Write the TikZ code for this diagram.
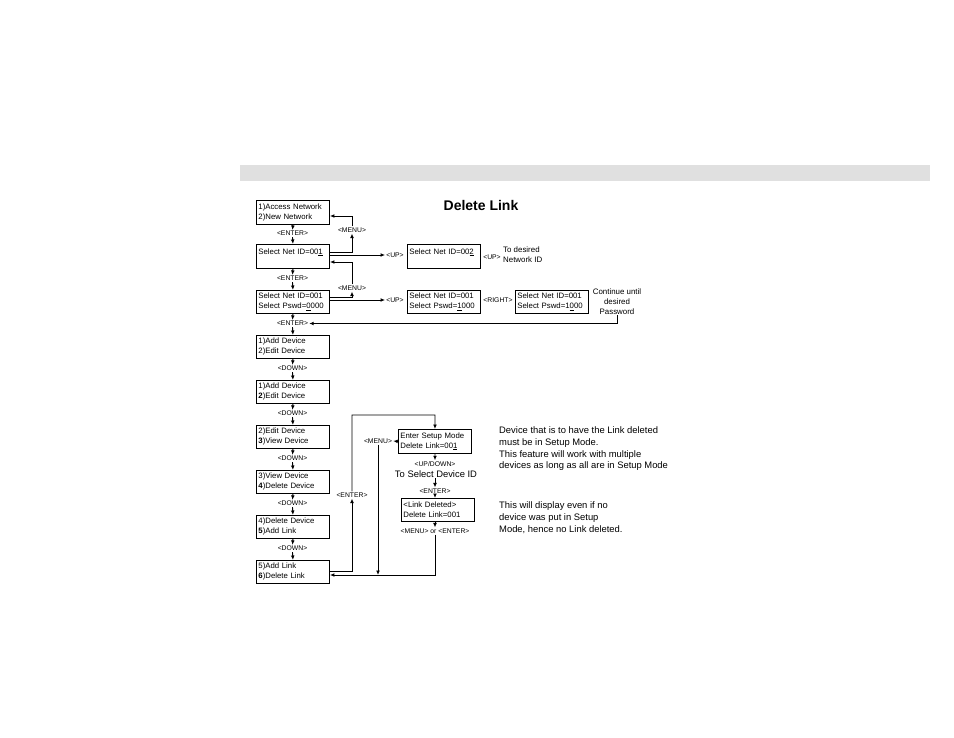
\documentclass[tikz,border=0pt]{standalone}
\usepackage{fontspec}
\setmainfont{Liberation Sans}
\usetikzlibrary{arrows.meta,calc}
\definecolor{band}{RGB}{224,224,224}
\newcommand\bxf{\fontsize{7.8}{10}\selectfont}
\newcommand\lbf{\fontsize{6.8}{8}\selectfont}
\newcommand\ntf{\fontsize{9.4}{11.7}\selectfont}
\newcommand\smf{\fontsize{7.9}{10}\selectfont}
\begin{document}
\begin{tikzpicture}[x=1pt,y=-1pt,
 lcd/.style={draw, line width=0.9pt, anchor=north west, font=\bxf, align=left, text width=69pt, inner xsep=2pt, inner ysep=0pt, minimum height=23pt},
 lbl/.style={font=\lbf, inner sep=1pt},
 arr/.style={-{Latex[length=4.5pt,width=3.8pt]}, line width=0.9pt}]
\useasboundingbox (0,0) rectangle (954,737);
\fill[band] (240,165) rectangle (930,181);
\node[font=\fontsize{14}{16}\selectfont\bfseries] (title) at (481,205) {Delete Link};
% left column
\node[lcd, minimum height=24pt] (b1) at (256,200) {1)Access Network\\2)New Network};
\node[lcd, minimum height=24pt] (b2) at (256,244) {Select Net ID=00\underline{1}\\\mbox{}};
\node[lcd] (b3) at (256,290) {Select Net ID=001\\Select Pswd=\underline{0}000};
\node[lcd] (b4) at (256,335) {1)Add Device\\2)Edit Device};
\node[lcd] (b5) at (256,380) {1)Add Device\\\textbf{2})Edit Device};
\node[lcd] (b6) at (256,425) {2)Edit Device\\\textbf{3})View Device};
\node[lcd] (b7) at (256,470) {3)View Device\\\textbf{4})Delete Device};
\node[lcd] (b8) at (256,515) {4)Delete Device\\\textbf{5})Add Link};
\node[lcd] (b9) at (256,560) {5)Add Link\\\textbf{6})Delete Link};
\node[lbl] (e1) at (292.5,233.5) {<ENTER>};
\node[lbl] (e2) at (292.5,278.5) {<ENTER>};
\node[lbl] (e3) at (292.5,323.5) {<ENTER>};
\node[lbl] (d1) at (292.5,368.5) {<DOWN>};
\node[lbl] (d2) at (292.5,413.5) {<DOWN>};
\node[lbl] (d3) at (292.5,458.5) {<DOWN>};
\node[lbl] (d4) at (292.5,503.5) {<DOWN>};
\node[lbl] (d5) at (292.5,548.5) {<DOWN>};
\node[lbl] (menu1) at (352,230) {<MENU>};
\node[lbl] (menu2) at (352,288) {<MENU>};
% right part
\node[lbl] (up1) at (395,255) {<UP>};
\node[lbl] (up3) at (395,300) {<UP>};
\node[lcd, minimum height=24pt] (r1) at (407,244) {Select Net ID=00\underline{2}\\\mbox{}};
\node[lcd] (r2) at (407,290) {Select Net ID=001\\Select Pswd=\underline{1}000};
\node[lcd] (r3) at (515,290) {Select Net ID=001\\Select Pswd=1\underline{0}00};
\node[lbl] (up2) at (492,257) {<UP>};
\node[lbl] (right1) at (498,300) {<RIGHT>};
\node[font=\smf, align=left, anchor=west, inner sep=0pt] (tod) at (503,255) {To desired\\Network ID};
\node[font=\smf, align=center, inner sep=0pt] (cont) at (617,302) {Continue until\\desired\\Password};
% middle
\node[lcd, minimum height=24pt] (m1) at (398,429) {Enter Setup Mode\\Delete Link=00\underline{1}};
\node[lbl] (menu3) at (378,441) {<MENU>};
\node[lbl] (ud) at (435,464) {<UP/DOWN>};
\node[font=\ntf, inner sep=0.5pt] (tosel) at (436,474) {To Select Device ID};
\node[lbl] (e4) at (435,491) {<ENTER>};
\node[lcd] (m2) at (401,498) {<Link Deleted>\\Delete Link=001};
\node[lbl] (moe) at (435,531) {<MENU> or <ENTER>};
\node[lbl] (e5) at (352,495) {<ENTER>};
\node[font=\ntf, align=left, anchor=west, inner sep=0pt] (txt1) at (499,449) {Device that is to have the Link deleted\\must be in Setup Mode.\\This feature will work with multiple\\devices as long as all are in Setup Mode};
\node[font=\ntf, align=left, anchor=west, inner sep=0pt] (txt2) at (499,517.5) {This will display even if no\\device was put in Setup\\Mode, hence no Link deleted.};
\coordinate (tl) at (435,415);
\coordinate (rl) at (435,575);
% column arrows
\draw[arr] (b1.south) -- (e1.north);
\draw[arr] (e1.south) -- (b2.north);
\draw[arr] (b2.south) -- (e2.north);
\draw[arr] (e2.south) -- (b3.north);
\draw[arr] (b3.south) -- (e3.north);
\draw[arr] (e3.south) -- (b4.north);
\draw[arr] (b4.south) -- (d1.north);
\draw[arr] (d1.south) -- (b5.north);
\draw[arr] (b5.south) -- (d2.north);
\draw[arr] (d2.south) -- (b6.north);
\draw[arr] (b6.south) -- (d3.north);
\draw[arr] (d3.south) -- (b7.north);
\draw[arr] (b7.south) -- (d4.north);
\draw[arr] (d4.south) -- (b8.north);
\draw[arr] (b8.south) -- (d5.north);
\draw[arr] (d5.south) -- (b9.north);
% menu loops
\draw[arr] ($(b2.north east)+(0,8)$) -| (menu1.south);
\draw[arr] (menu1.north) |- ($(b1.north east)+(0,16)$);
\draw[arr] (b2.east |- up1.west) -- (up1.west);
\draw[arr] ($(b3.north east)+(0,7)$) -| (menu2.south);
\draw[arr] (menu2.north) |- ($(b2.north east)+(0,18)$);
\draw[arr] (b3.east |- up3.west) -- (up3.west);
\draw[arr] (cont.south) |- (e3.east);
% middle connectors
\draw[arr] (m1.west) -- (menu3.east);
\draw[arr] (menu3.south) -- (menu3.south |- rl);
\draw[arr] (m1.south) -- (ud.north);
\draw[arr] (e4.north |- tosel.south) -- (e4.north);
\draw[arr] (e4.south) -- (e4.south |- m2.north);
\draw[arr] (e4.south |- m2.south) -- (moe.north);
\draw[arr] (moe.south) -- (rl) -- (b9.east |- rl);
\draw[arr] ($(b9.north east)+(0,11)$) -| (e5.south);
\draw[arr] (e5.north) |- (tl) -- (m1.north);
\end{tikzpicture}
\end{document}
